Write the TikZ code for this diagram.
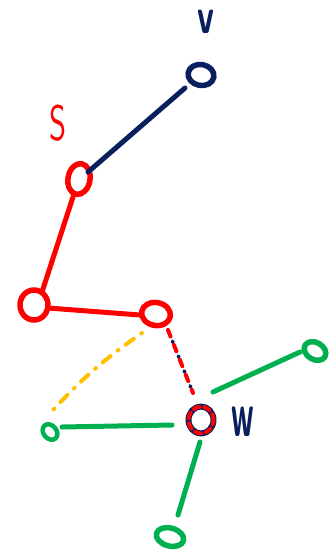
\documentclass[tikz,border=0pt]{standalone}
\usepackage{fontspec}
\usepackage{graphicx}
\usetikzlibrary{shapes.geometric,calc}
\definecolor{navy}{HTML}{0A205E}
\definecolor{pred}{HTML}{FF0000}
\definecolor{pgreen}{HTML}{00B050}
\definecolor{pyellow}{HTML}{FFC000}
\begin{document}
\begin{tikzpicture}[x=1pt,y=-1pt,line cap=round,line join=round,
  vtx/.style={ellipse,draw,line width=5.5pt,inner sep=0pt},
  edge/.style={line width=5pt},
  lbl/.style={inner sep=0pt}]
\useasboundingbox (0,0) rectangle (335,550);
% vertices
\node[vtx,navy,minimum width=26pt,minimum height=21pt,rotate=-10] (v) at (201,75) {};
\node[vtx,pred,minimum width=22pt,minimum height=31pt,rotate=-10] (s) at (79,179) {};
\node[vtx,pred,minimum width=28pt,minimum height=30pt] (a) at (34,305) {};
\node[vtx,pred,minimum width=29pt,minimum height=23pt,rotate=-10] (b) at (156,314) {};
\node[vtx,navy,line width=6pt,minimum width=25pt,minimum height=27pt] (w) at (201,420) {};
\draw[pred,line width=4pt,dash pattern=on 6pt off 5pt] (w) ellipse [x radius=12.5pt,y radius=13.5pt];
\node[vtx,pgreen,line width=4.5pt,minimum width=17pt,minimum height=13pt,rotate=-50] (g1) at (50,432) {};
\node[vtx,pgreen,minimum width=23pt,minimum height=17pt,rotate=-30] (g2) at (315,351) {};
\node[vtx,pgreen,minimum width=28pt,minimum height=18pt,rotate=-15] (g3) at (170,537) {};
% labels
\node[lbl,navy,font=\fontsize{34}{34}\selectfont\sffamily\bfseries] (lv) at (206,22) {\scalebox{1}[1.5]{v}};
\node[lbl,pred,font=\fontsize{50}{50}\selectfont\sffamily] (ls) at (58,123) {\scalebox{0.65}[1]{S}};
\node[lbl,navy,font=\fontsize{38}{38}\selectfont\sffamily\bfseries] (lw) at (243,422) {\scalebox{0.8}[1.7]{w}};
% edges
\draw[edge,navy] ($(v)+(-16,13)$) -- ($(s)+(9,-7)$);
\draw[edge,pred] ($(s)+(-6,18)$) -- ($(a)+(8,-13)$);
\draw[edge,pred] ($(a)+(14,3)$) -- ($(b)+(-16,1)$);
\draw[navy,line width=3.5pt,dash pattern=on 1.5pt off 14.5pt,dash phase=-12pt] ($(b)+(12,16)$) -- ($(w)+(-8,-27)$);
\draw[pred,line width=4pt,dash pattern=on 7pt off 9pt] ($(b)+(12,16)$) -- ($(w)+(-8,-27)$);
\draw[edge,pgreen] ($(g1)+(12,-5)$) -- ($(w)+(-29,5)$);
\draw[edge,pgreen] ($(w)+(12,-28)$) -- ($(g2)+(-15,1)$);
\draw[edge,pgreen] ($(w)+(-1,22)$) -- ($(g3)+(8,-22)$);
\draw[pyellow,line width=4pt,dash pattern=on 1pt off 9pt on 10pt off 9pt] ($(b)+(-14,19)$) to[bend right=6] ($(g1)+(3,-22)$);
\end{tikzpicture}
\end{document}
